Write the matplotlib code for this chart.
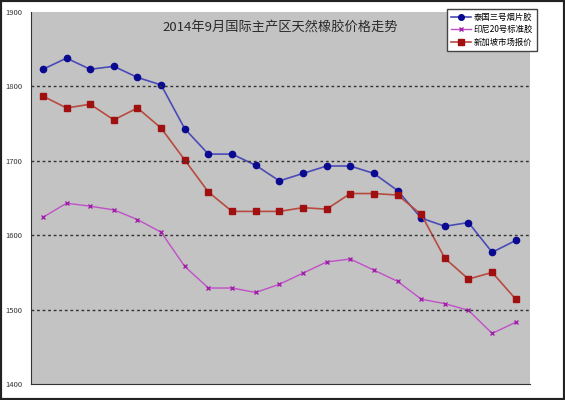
import numpy as np
import matplotlib.pyplot as plt

plt.rcParams['font.family'] = ['Noto Sans CJK SC', 'DejaVu Sans']

# 数据：2014年9月逐日报价
dias = list(range(1, 22))
tailandia = [1823, 1838, 1823, 1827, 1812, 1802, 1743, 1709, 1709, 1694, 1673,
             1683, 1693, 1693, 1683, 1660, 1623, 1612, 1617, 1577, 1593]
indonesia = [1624, 1643, 1639, 1634, 1621, 1604, 1558, 1529, 1529, 1523, 1534,
             1549, 1564, 1568, 1553, 1538, 1514, 1508, 1499, 1468, 1483]
singapur = [1787, 1771, 1776, 1755, 1771, 1744, 1701, 1658, 1632, 1632, 1632,
            1637, 1635, 1656, 1656, 1654, 1628, 1569, 1541, 1550, 1514]
etiquetas = ['泰国三号烟片胶', '印尼20号标准胶', '新加坡市场报价']
yticks = [1400, 1500, 1600, 1700, 1800, 1900]
titulo = '2014年9月国际主产区天然橡胶价格走势'

fig = plt.figure(figsize=(5.65, 4.0), dpi=100)
ax = fig.add_axes([0.055, 0.04, 0.883, 0.93])
ax.set_facecolor('#c3c3c3')

# borde negro exterior
fig.patches.append(plt.Rectangle((0, 0), 1, 1, transform=fig.transFigure,
                                 fill=False, edgecolor='#222222', linewidth=3))

ax.plot(dias, tailandia, color='#4a4ab8', linewidth=1.2, marker='o',
        markersize=4.5, markerfacecolor='#0a0a90', markeredgecolor='#0a0a90',
        label=etiquetas[0])
ax.plot(dias, indonesia, color='#c050c8', linewidth=1.0, marker='x',
        markersize=3, markeredgecolor='#a020a8', label=etiquetas[1])
ax.plot(dias, singapur, color='#b84a40', linewidth=1.2, marker='s',
        markersize=4.5, markerfacecolor='#a01010', markeredgecolor='#a01010',
        label=etiquetas[2])

ax.set_xlim(0.5, 21.6)
ax.set_ylim(1400, 1900)
ax.set_yticks(yticks)
ax.set_yticklabels([str(v) for v in yticks], fontsize=5.5, color='#333333')
ax.set_xticks([])
ax.tick_params(axis='y', length=0, pad=6)

for v in yticks[1:-1]:
    ax.axhline(v, color='#333333', linestyle=(0, (2, 2)), linewidth=1.0)

for lado in ['top', 'right']:
    ax.spines[lado].set_visible(False)
ax.spines['left'].set_color('#333333')
ax.spines['bottom'].set_color('#333333')

ax.text(0.5, 0.975, titulo, transform=ax.transAxes, ha='center', va='top',
        fontsize=9.5, color='#2a2a2a')

leg = ax.legend(loc='upper left', bbox_to_anchor=(0.825, 1.02), fontsize=6,
                frameon=True, fancybox=False, borderpad=0.45, labelspacing=0.45,
                handlelength=2.4, handletextpad=0.4, markerscale=0.9)
leg.get_frame().set_edgecolor('#444444')
leg.get_frame().set_linewidth(1.0)
leg.get_frame().set_alpha(1)

fig.savefig('out.png', dpi=100)
